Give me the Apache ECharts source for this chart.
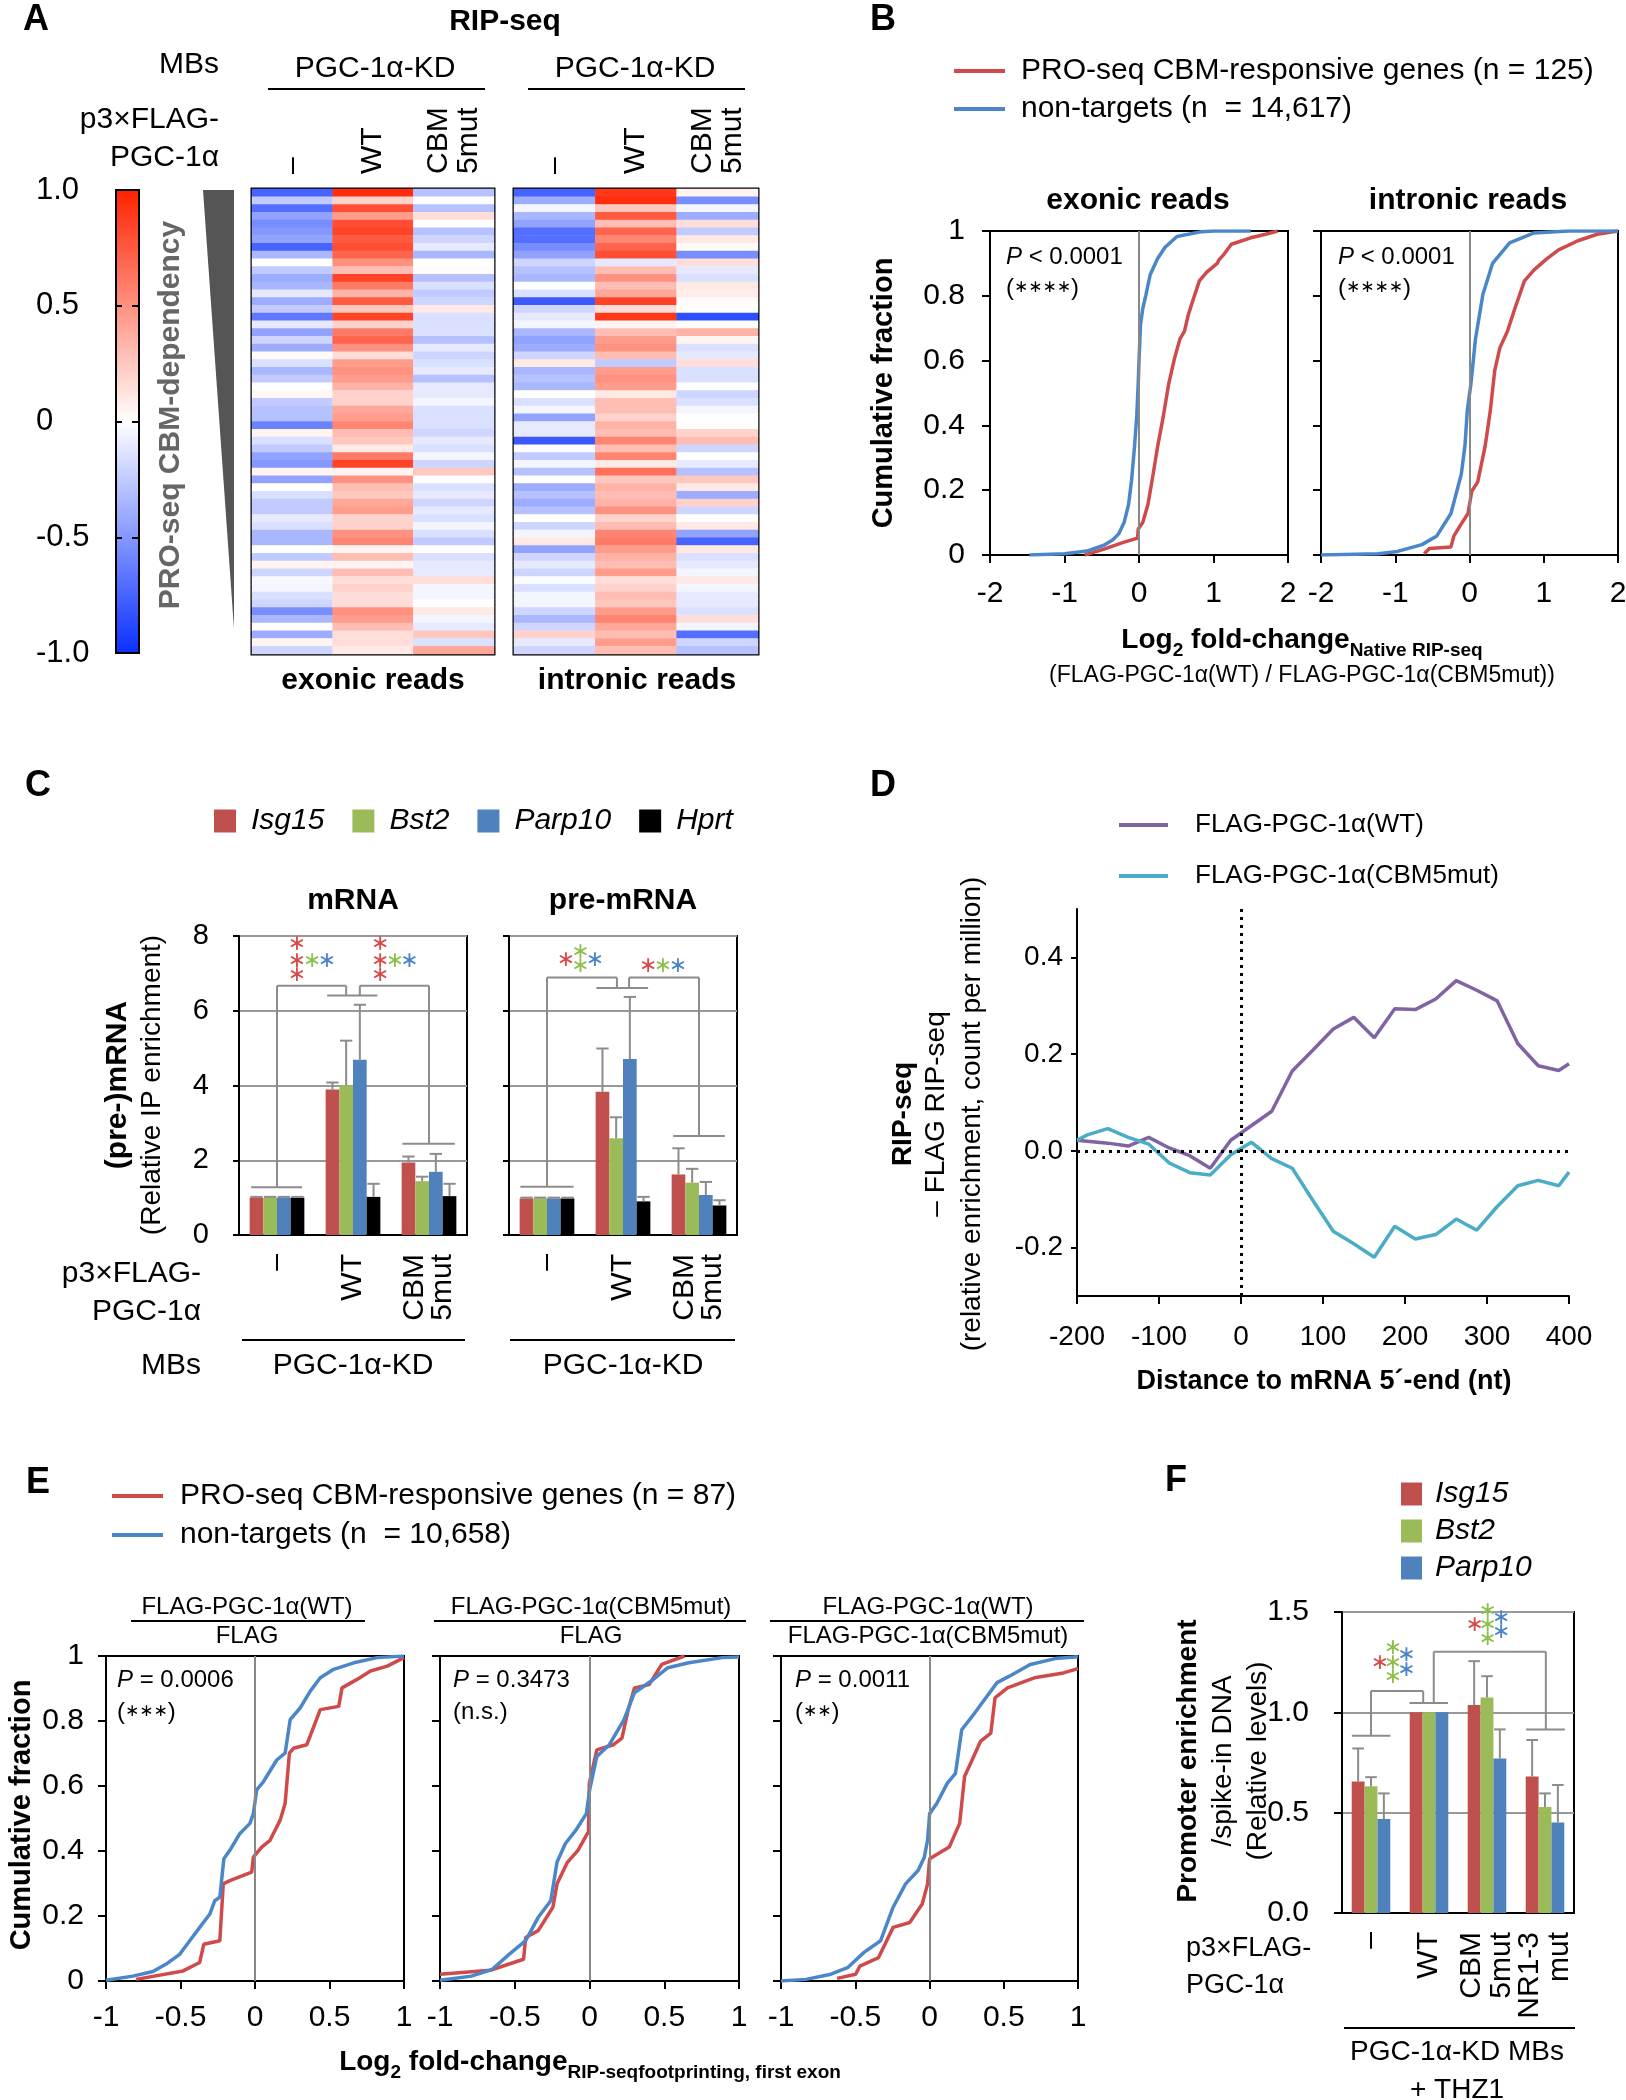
<!DOCTYPE html>
<html><head><meta charset="utf-8">
<script src="https://cdn.jsdelivr.net/npm/echarts@6/dist/echarts.min.js"></script>
<style>html,body{margin:0;padding:0;background:#fff}#c{width:1626px;height:2100px}</style>
</head><body><div id="c"></div>
<script>
// ---------------- DATA ----------------
// Panel A heatmaps (rows top->bottom), columns: –, WT, CBM5mut
const hmCols = ['–', 'WT', 'CBM\n5mut'];
const exonNone = [-0.75,-0.25,-0.7,-0.45,-0.55,-0.5,-0.45,-0.75,-0.35,0.0,-0.25,-0.4,-0.35,-0.1,-0.4,-0.25,-0.65,-0.1,-0.45,-0.2,-0.4,0.02,-0.15,-0.35,-0.25,0.0,0.03,-0.25,-0.3,-0.3,
 -0.6,0.05,-0.15,-0.25,-0.45,-0.5,0.05,-0.45,0.0,-0.15,-0.25,-0.25,-0.1,-0.15,-0.35,-0.35,0.0,-0.25,0.05,-0.2,-0.03,-0.05,-0.15,-0.2,-0.55,-0.35,0.0,-0.4,0.05,-0.2];
const exonWT = [0.95,0.2,0.8,0.45,0.8,0.85,0.75,0.8,0.7,0.5,0.3,0.85,0.6,0.35,0.75,0.25,0.85,0.2,0.6,0.7,0.5,0.15,0.45,0.5,0.45,0.35,0.2,0.2,0.4,0.45,
 0.55,0.3,0.25,0.1,0.6,0.85,0.05,0.5,0.3,0.25,0.4,0.45,0.2,0.2,0.5,0.55,0.05,0.3,0.05,0.3,0.15,0.2,0.15,0.15,0.5,0.45,0.3,0.15,0.15,0.1];
const exonCBM = [-0.3,0.0,-0.3,0.15,0.0,-0.3,-0.2,-0.1,-0.35,0.0,0.02,-0.3,-0.15,-0.25,-0.2,0.1,-0.15,-0.15,-0.15,-0.3,-0.1,-0.2,-0.15,-0.1,-0.3,-0.1,-0.1,-0.05,-0.15,-0.15,
 -0.15,-0.2,-0.1,-0.15,-0.05,-0.2,0.25,0.0,-0.15,-0.1,-0.2,-0.1,-0.15,-0.05,-0.15,-0.25,0.0,-0.15,-0.1,-0.1,0.15,-0.05,-0.05,0.0,0.1,-0.05,-0.1,0.25,-0.15,0.4];
const intronNone = [-0.75,-0.4,-0.05,-0.35,-0.45,-0.7,-0.7,-0.55,-0.45,-0.2,-0.3,-0.35,0.0,-0.15,-0.8,-0.2,-0.1,-0.05,-0.35,-0.45,-0.4,-0.2,0.1,-0.35,-0.3,-0.35,0.0,-0.15,-0.05,-0.45,
 -0.1,-0.1,-0.8,0.0,-0.25,-0.05,-0.3,0.0,-0.4,-0.3,-0.4,-0.3,0.0,-0.2,-0.05,0.1,-0.45,-0.2,-0.1,-0.2,-0.02,-0.15,-0.05,-0.05,-0.2,-0.35,-0.2,0.2,-0.1,-0.2];
const intronWT = [0.9,0.95,0.25,0.75,0.3,0.7,0.55,0.7,0.8,-0.1,0.3,0.5,0.3,0.4,0.85,0.15,0.9,0.05,0.3,0.45,0.5,0.3,-0.25,0.45,0.5,0.45,0.1,0.3,0.3,0.2,
 0.35,0.3,0.55,0.3,0.55,0.1,0.65,0.25,0.35,0.3,0.35,0.5,0.2,0.3,0.55,0.6,0.45,0.35,0.3,0.45,0.15,0.2,0.3,0.25,0.45,0.55,0.4,0.3,0.45,0.3];
const intronCBM = [0.05,-0.55,-0.05,-0.4,0.15,-0.25,0.1,0.02,-0.55,0.15,-0.1,-0.15,0.1,0.08,0.02,0.0,-0.85,0.0,0.35,0.05,-0.15,-0.1,0.15,-0.15,-0.15,0.0,-0.2,-0.15,-0.05,0.0,
 0.0,0.2,0.3,-0.2,0.0,-0.1,-0.3,0.25,0.1,-0.4,0.2,-0.2,0.0,0.1,-0.45,-0.75,0.1,-0.15,-0.1,-0.05,0.1,-0.05,-0.1,-0.1,-0.15,0.15,-0.05,-0.7,-0.2,-0.3];
const colorbarTicks = [-1, -0.5, 0, 0.5, 1];

// Panel B cumulative curves [log2FC, fraction]
const bRedName = 'PRO-seq CBM-responsive genes (n = 125)';
const bBlueName = 'non-targets (n  = 14,617)';
const bExonRed = [[-0.73,0],[-0.47,0.018],[-0.21,0.039],[-0.02,0.052],[-0.01,0.08],[0.05,0.1],[0.12,0.156],[0.19,0.25],[0.25,0.335],[0.32,0.42],[0.40,0.53],[0.48,0.61],[0.55,0.667],[0.61,0.69],[0.66,0.74],[0.71,0.776],[0.81,0.846],[0.91,0.873],[1.05,0.9],[1.07,0.91],[1.14,0.928],[1.24,0.959],[1.5,0.979],[1.7,0.99],[1.86,1.0]];
const bExonBlue = [[-1.47,0],[-1.0,0.004],[-0.7,0.012],[-0.47,0.03],[-0.35,0.047],[-0.27,0.066],[-0.2,0.1],[-0.14,0.156],[-0.1,0.23],[-0.06,0.335],[-0.03,0.43],[-0.01,0.53],[0.0,0.6],[0.02,0.71],[0.05,0.76],[0.09,0.80],[0.15,0.865],[0.25,0.915],[0.35,0.95],[0.51,0.983],[0.84,0.998],[1.0,1.0],[1.5,1.0]];
const bIntronRed = [[-0.61,0.004],[-0.54,0.02],[-0.25,0.025],[-0.21,0.059],[-0.10,0.1],[-0.02,0.128],[0.03,0.197],[0.11,0.225],[0.21,0.335],[0.28,0.445],[0.34,0.57],[0.41,0.64],[0.51,0.69],[0.61,0.76],[0.74,0.846],[0.87,0.88],[1.04,0.914],[1.2,0.942],[1.46,0.97],[1.72,0.99],[2,1.0]];
const bIntronBlue = [[-2,0],[-1.23,0.004],[-0.97,0.011],[-0.64,0.032],[-0.44,0.059],[-0.25,0.128],[-0.11,0.25],[-0.06,0.34],[-0.03,0.445],[0.02,0.53],[0.08,0.666],[0.18,0.804],[0.31,0.9],[0.54,0.963],[0.87,0.994],[1.33,1.0],[2,1.0]];

// Panel C bars
const cCats = ['–', 'WT', 'CBM\n5mut'];
const genesC = ['Isg15', 'Bst2', 'Parp10', 'Hprt'];
const cMrnaIsg15 = [1.0, 3.89, 1.94], cMrnaBst2 = [1.0, 4.0, 1.44], cMrnaParp10 = [1.0, 4.69, 1.69], cMrnaHprt = [1.0, 1.02, 1.04];
const cMrnaIsg15Err = [1.02, 4.08, 2.1], cMrnaBst2Err = [1.02, 5.2, 1.56], cMrnaParp10Err = [1.02, 6.16, 2.17], cMrnaHprtErr = [1.02, 1.37, 1.37];
const cPreIsg15 = [0.98, 3.83, 1.62], cPreBst2 = [0.98, 2.59, 1.40], cPreParp10 = [0.98, 4.71, 1.07], cPreHprt = [0.98, 0.90, 0.79];
const cPreIsg15Err = [1.0, 4.99, 2.32], cPreBst2Err = [1.0, 3.15, 1.77], cPreParp10Err = [1.0, 6.37, 1.42], cPreHprtErr = [1.0, 1.02, 0.93];
// significance brackets [x1,y1,x2,y2] in group units
const cMrnaBrackets = [[-0.34,1.28,0.33,1.28],[0,1.28,0,6.67],[0,6.67,0.91,6.67],[0.91,6.67,0.91,6.41],[0.66,6.41,1.32,6.41],[1.09,6.41,1.09,6.67],[1.09,6.67,2.0,6.67],[2.0,6.67,2.0,2.44],[1.65,2.44,2.34,2.44]];
const cPreBrackets = [[-0.35,1.29,0.35,1.29],[0,1.29,0,6.89],[0,6.89,0.92,6.89],[0.92,6.89,0.92,6.61],[0.65,6.61,1.33,6.61],[1.08,6.61,1.08,6.89],[1.08,6.89,2.0,6.89],[2.0,6.89,2.0,2.65],[1.66,2.65,2.34,2.65]];
// stars [x, y, colourIndex]
const cMrnaStars = [[0.264,7.78,0],[0.264,7.33,0],[0.264,6.94,0],[0.464,7.33,1],[0.656,7.33,2],[1.358,7.78,0],[1.358,7.33,0],[1.358,6.94,0],[1.551,7.33,1],[1.744,7.33,2]];
const cPreStars = [[0.248,7.34,0],[0.44,7.56,1],[0.44,7.2,1],[0.632,7.34,2],[1.333,7.2,0],[1.525,7.2,1],[1.724,7.2,2]];

// Panel D profiles
const dX = [-200,-187.5,-162.5,-137.5,-112.5,-87.5,-62.5,-37.5,-12.5,12.5,37.5,62.5,87.5,112.5,137.5,162.5,187.5,212.5,237.5,262.5,287.5,312.5,337.5,362.5,387.5,400];
const dWT = [0.022,0.02,0.016,0.01,0.028,0.006,-0.01,-0.036,0.022,0.052,0.082,0.165,0.208,0.252,0.276,0.234,0.294,0.292,0.314,0.352,0.332,0.31,0.222,0.176,0.166,0.18];
const dCBM = [0.022,0.033,0.046,0.028,0.014,-0.025,-0.045,-0.05,-0.008,0.018,-0.016,-0.036,-0.102,-0.166,-0.192,-0.22,-0.156,-0.182,-0.173,-0.141,-0.164,-0.115,-0.072,-0.061,-0.072,-0.044];

// Panel E cumulative curves
const eRedName = 'PRO-seq CBM-responsive genes (n = 87)';
const eBlueName = 'non-targets (n  = 10,658)';
const e1Red = [[-0.798,0.005],[-0.483,0.031],[-0.371,0.057],[-0.344,0.113],[-0.236,0.124],[-0.213,0.299],[-0.169,0.309],[-0.022,0.335],[-0.011,0.381],[0.045,0.412],[0.101,0.433],[0.169,0.495],[0.202,0.546],[0.231,0.701],[0.258,0.716],[0.348,0.727],[0.438,0.835],[0.562,0.845],[0.584,0.902],[0.685,0.928],[0.775,0.954],[0.888,0.969],[1,0.995]];
const e1Blue = [[-1,0.002],[-0.82,0.015],[-0.685,0.029],[-0.596,0.052],[-0.506,0.082],[-0.438,0.124],[-0.371,0.165],[-0.303,0.206],[-0.27,0.247],[-0.236,0.258],[-0.209,0.376],[-0.169,0.402],[-0.101,0.454],[-0.034,0.485],[-0.011,0.515],[0.011,0.588],[0.056,0.613],[0.146,0.68],[0.202,0.701],[0.236,0.804],[0.303,0.84],[0.371,0.892],[0.438,0.933],[0.528,0.959],[0.663,0.979],[0.82,0.995],[1,1]];
const e2Red = [[-1,0.021],[-0.664,0.033],[-0.441,0.067],[-0.427,0.134],[-0.343,0.155],[-0.245,0.227],[-0.217,0.299],[-0.147,0.366],[-0.077,0.402],[-0.021,0.448],[-0.007,0.459],[-0.001,0.608],[0.049,0.711],[0.161,0.727],[0.217,0.747],[0.259,0.835],[0.301,0.902],[0.399,0.912],[0.483,0.974],[0.636,1.0]];
const e2Blue = [[-1,0.002],[-0.79,0.015],[-0.65,0.036],[-0.538,0.082],[-0.427,0.124],[-0.343,0.196],[-0.259,0.247],[-0.217,0.366],[-0.161,0.423],[-0.091,0.464],[-0.021,0.515],[0.001,0.588],[0.049,0.691],[0.133,0.727],[0.231,0.804],[0.301,0.887],[0.413,0.923],[0.524,0.964],[0.664,0.979],[0.888,0.995],[1,0.997]];
const e3Red = [[-0.622,0.008],[-0.497,0.021],[-0.469,0.046],[-0.343,0.072],[-0.245,0.165],[-0.133,0.18],[-0.049,0.237],[-0.013,0.299],[0.001,0.376],[0.133,0.412],[0.203,0.485],[0.236,0.629],[0.287,0.68],[0.343,0.737],[0.413,0.763],[0.441,0.871],[0.525,0.902],[0.706,0.933],[0.902,0.948],[1,0.961]];
const e3Blue = [[-1,0],[-0.832,0.005],[-0.664,0.021],[-0.552,0.041],[-0.441,0.088],[-0.329,0.124],[-0.245,0.227],[-0.161,0.299],[-0.077,0.34],[-0.035,0.381],[-0.013,0.433],[0.001,0.515],[0.049,0.546],[0.119,0.608],[0.175,0.639],[0.217,0.773],[0.287,0.814],[0.371,0.866],[0.455,0.918],[0.538,0.938],[0.678,0.974],[0.846,0.992],[1,0.998]];

// Panel F bars
const fCats = ['–', 'WT', 'CBM\n5mut', 'NR1-3\nmut'];
const fIsg15 = [0.655, 1.0, 1.036, 0.68], fBst2 = [0.632, 1.0, 1.074, 0.528], fParp10 = [0.468, 1.0, 0.77, 0.451];
const fIsg15Err = [0.82, 1.0, 1.255, 0.862], fBst2Err = [0.677, 1.0, 1.18, 0.596], fParp10Err = [0.596, 1.0, 0.915, 0.638];
const fBrackets = [[-0.33,0.883,0.335,0.883],[0,0.883,0,1.106],[0,1.106,0.9,1.106],[0.9,1.106,0.9,1.047],[0.664,1.047,1.328,1.047],[1.082,1.047,1.082,1.302],[1.082,1.302,3.014,1.302],[3.014,1.302,3.014,0.915],[2.675,0.915,3.343,0.915]];
const fStars = [[0.153,1.245,0],[0.377,1.319,1],[0.377,1.245,1],[0.377,1.174,1],[0.612,1.283,2],[0.612,1.209,2],[1.787,1.432,0],[2.012,1.506,1],[2.012,1.432,1],[2.012,1.362,1],[2.247,1.468,2],[2.247,1.398,2]];

// ---------------- STYLE ----------------
const FONT = '"Liberation Sans", Arial, Helvetica, sans-serif';
const RED = '#c0504d', GREEN = '#9bbb59', BLUE = '#4f81bd', BLACK = '#000000';
const CDF_RED = '#cf4a4a', CDF_BLUE = '#4a86c8', PURPLE = '#8064a2', CYAN = '#4bacc6';
const starColors = ['#d84a4a', '#8dbf4a', '#4a82cc'];
const ERR_GRAY = '#8c8c8c';

const chart = echarts.init(document.getElementById('c'), null, {renderer: 'canvas', width: 1626, height: 2100});

function hmData(a, b, c) { const out = []; [a, b, c].forEach((col, ci) => col.forEach((v, ri) => out.push([ci, ri, v]))); return out; }
function errData(arrs, errs) { const out = []; arrs.forEach((vals, k) => vals.forEach((v, c) => out.push([c, k, v, errs[k][c]]))); return out; }
function makeErr(n, gap) {
  return function (params, api) {
    const c = api.value(0), k = api.value(1), v = api.value(2), e = api.value(3);
    if (e <= v) return null;
    const band = api.size([1, 0])[0];
    const gw = band * (1 - gap), bw = gw / n;
    const p0 = api.coord([c, v]), p1 = api.coord([c, e]);
    const x = p0[0] - gw / 2 + bw * (k + 0.5);
    return {type: 'group', children: [
      {type: 'line', shape: {x1: x, y1: p0[1], x2: x, y2: p1[1]}, style: {stroke: ERR_GRAY, lineWidth: 2}},
      {type: 'line', shape: {x1: x - bw * 0.45, y1: p1[1], x2: x + bw * 0.45, y2: p1[1]}, style: {stroke: ERR_GRAY, lineWidth: 2}}
    ]};
  };
}
function segRender(params, api) {
  const a = api.coord([api.value(0), api.value(1)]), b = api.coord([api.value(2), api.value(3)]);
  return {type: 'line', shape: {x1: a[0], y1: a[1], x2: b[0], y2: b[1]}, style: {stroke: ERR_GRAY, lineWidth: 2}};
}
function starRender(params, api) {
  const p = api.coord([api.value(0), api.value(1)]);
  return {type: 'text', x: p[0], y: p[1], style: {text: '∗', fill: starColors[api.value(2)], fontSize: 22, fontFamily: 'DejaVu Sans', align: 'center', verticalAlign: 'middle'}};
}

// grids
function grid(left, top, width, height, border, extra) {
  return Object.assign({left, top, width, height, containLabel: false, outerBoundsMode: 'none', show: !!border, borderColor: '#000', borderWidth: border || 0, backgroundColor: 'transparent'}, extra || {});
}
const grids = [
  grid(252, 189, 242, 465, 3),          // 0 A exonic
  grid(514, 189, 244, 465, 3),          // 1 A intronic
  grid(116, 190, 23, 463, 2, {z: 10}),  // 2 colorbar
  grid(990, 231, 298, 324, 2),          // 3 B1
  grid(1321, 231, 297, 324, 2),         // 4 B2
  grid(239, 936, 228, 299, 2),          // 5 C1
  grid(509, 936, 228, 299, 2),          // 6 C2
  grid(1077, 909, 492, 387, 0),         // 7 D
  grid(106, 1656, 298, 325, 2),         // 8 E1
  grid(440, 1656, 299, 325, 2),         // 9 E2
  grid(781, 1656, 297, 325, 2),         // 10 E3
  grid(1342, 1612, 232, 301, 2)         // 11 F
];

function valAx(gi, min, max, interval, o) {
  o = o || {};
  return {type: 'value', gridIndex: gi, min, max, interval, z: o.z || 0,
    axisLine: {show: o.line !== false, onZero: false, lineStyle: {color: '#000', width: 2}},
    axisTick: {show: o.tick !== false, inside: false, length: o.tickLen || 8, lineStyle: {color: '#000', width: 2}, customValues: o.tickVals},
    axisLabel: {show: o.label !== false, fontSize: o.fs || 30, color: '#000', fontFamily: FONT, margin: o.margin == null ? 10 : o.margin, formatter: o.fmt, customValues: o.labelVals, align: o.align, showMinLabel: true, showMaxLabel: true, hideOverlap: false},
    splitLine: {show: !!o.split, lineStyle: o.splitStyle || {color: '#999', width: 2}}};
}
function hidAx(gi, min, max) { return {type: 'value', gridIndex: gi, min, max, show: false}; }
function catAx(gi, data, o) {
  return {type: 'category', gridIndex: gi, data, position: o.pos || 'bottom',
    axisLine: {show: o.line !== false, onZero: false, lineStyle: {color: '#000', width: 2}},
    axisTick: {show: false},
    axisLabel: {show: o.label !== false, interval: 0, rotate: 90, fontSize: 30, lineHeight: o.lh || 30, color: '#000', fontFamily: FONT, margin: o.margin, hideOverlap: false},
    splitLine: {show: false}};
}

const rowIdx = exonNone.map((_, i) => i);
const xAxes = [
  catAx(0, hmCols, {pos: 'top', line: false, label: false}),  // 0
  catAx(1, hmCols, {pos: 'top', line: false, label: false}),  // 1
  hidAx(2, 0, 1),                                           // 2
  valAx(3, -2, 2, 1, {margin: 24}),                         // 3
  valAx(4, -2, 2, 1, {margin: 24}),                         // 4
  catAx(5, cCats, {margin: 19, lh: 28}),                    // 5
  hidAx(5, -0.5, 2.5),                                      // 6
  catAx(6, cCats, {margin: 19, lh: 28}),                    // 7
  hidAx(6, -0.5, 2.5),                                      // 8
  valAx(7, -200, 400, 100, {margin: 27, fs: 28}),           // 9
  valAx(8, -1, 1, 0.5, {margin: 22}),                       // 10
  valAx(9, -1, 1, 0.5, {margin: 22}),                       // 11
  valAx(10, -1, 1, 0.5, {margin: 22}),                      // 12
  catAx(11, fCats, {margin: 19, lh: 30}),                   // 13
  hidAx(11, -0.5, 3.5)                                      // 14
];
const yAxes = [
  {type: 'category', gridIndex: 0, data: rowIdx, inverse: true, show: false},
  {type: 'category', gridIndex: 1, data: rowIdx, inverse: true, show: false},
  valAx(2, -1, 1, 0.5, {z: 10, line: false, tick: false, align: 'left', margin: 80, fs: 31,
    fmt: v => (v === 0 ? '0' : v.toFixed(1)), labelVals: colorbarTicks,
    split: true, splitStyle: {color: '#000', width: 2, type: [6, 10]}}),
  valAx(3, 0, 1, 0.2, {margin: 25}),
  valAx(4, 0, 1, 0.2, {label: false}),
  valAx(5, 0, 8, 2, {margin: 30, fs: 29, split: true, tickLen: 6}),
  valAx(6, 0, 8, 2, {label: false, split: true, tickLen: 6}),
  valAx(7, -0.3, 0.5, 0.1, {margin: 14, fs: 28, tickLen: 6, fmt: v => v.toFixed(1), labelVals: [-0.2, 0, 0.2, 0.4], tickVals: [-0.2, 0, 0.2, 0.4]}),
  valAx(8, 0, 1, 0.2, {margin: 22}),
  valAx(9, 0, 1, 0.2, {label: false}),
  valAx(10, 0, 1, 0.2, {label: false}),
  valAx(11, 0, 1.5, 0.5, {margin: 33, split: true, fmt: v => v.toFixed(1)})
];

const zeroLine = {silent: true, symbol: 'none', label: {show: false}, lineStyle: {color: '#888', width: 2, type: 'solid'}, data: [{xAxis: 0}]};
function cdf(name, data, color, xi, yi, mark) {
  const s = {type: 'line', name, data, xAxisIndex: xi, yAxisIndex: yi, symbol: 'none', showSymbol: false, color,
    lineStyle: {color, width: 3.5}, itemStyle: {color}, silent: true, animation: false};
  if (mark) s.markLine = zeroLine;
  return s;
}
function bar(name, data, color, xi, yi, gap) {
  return {type: 'bar', name, data, xAxisIndex: xi, yAxisIndex: yi, barGap: '0%', barCategoryGap: gap, color, itemStyle: {color}, silent: true};
}

const series = [
  {type: 'heatmap', xAxisIndex: 0, yAxisIndex: 0, data: hmData(exonNone, exonWT, exonCBM), emphasis: {disabled: true}, silent: true},
  {type: 'heatmap', xAxisIndex: 1, yAxisIndex: 1, data: hmData(intronNone, intronWT, intronCBM), emphasis: {disabled: true}, silent: true},
  // B
  cdf(bRedName, bExonRed, CDF_RED, 3, 3, true),
  cdf(bBlueName, bExonBlue, CDF_BLUE, 3, 3),
  cdf(bRedName, bIntronRed, CDF_RED, 4, 4, true),
  cdf(bBlueName, bIntronBlue, CDF_BLUE, 4, 4),
  // C mRNA
  bar('Isg15', cMrnaIsg15, RED, 5, 5, '28%'), bar('Bst2', cMrnaBst2, GREEN, 5, 5, '28%'),
  bar('Parp10', cMrnaParp10, BLUE, 5, 5, '28%'), bar('Hprt', cMrnaHprt, BLACK, 5, 5, '28%'),
  {type: 'custom', xAxisIndex: 5, yAxisIndex: 5, renderItem: makeErr(4, 0.28), encode: {x: 0, y: [2, 3]}, silent: true, z: 3,
    data: errData([cMrnaIsg15, cMrnaBst2, cMrnaParp10, cMrnaHprt], [cMrnaIsg15Err, cMrnaBst2Err, cMrnaParp10Err, cMrnaHprtErr])},
  {type: 'custom', xAxisIndex: 6, yAxisIndex: 5, renderItem: segRender, encode: {x: [0, 2], y: [1, 3]}, data: cMrnaBrackets, silent: true},
  {type: 'custom', xAxisIndex: 6, yAxisIndex: 5, renderItem: starRender, encode: {x: 0, y: 1}, data: cMrnaStars, silent: true},
  // C pre-mRNA
  bar('Isg15', cPreIsg15, RED, 7, 6, '28%'), bar('Bst2', cPreBst2, GREEN, 7, 6, '28%'),
  bar('Parp10', cPreParp10, BLUE, 7, 6, '28%'), bar('Hprt', cPreHprt, BLACK, 7, 6, '28%'),
  {type: 'custom', xAxisIndex: 7, yAxisIndex: 6, renderItem: makeErr(4, 0.28), encode: {x: 0, y: [2, 3]}, silent: true, z: 3,
    data: errData([cPreIsg15, cPreBst2, cPreParp10, cPreHprt], [cPreIsg15Err, cPreBst2Err, cPreParp10Err, cPreHprtErr])},
  {type: 'custom', xAxisIndex: 8, yAxisIndex: 6, renderItem: segRender, encode: {x: [0, 2], y: [1, 3]}, data: cPreBrackets, silent: true},
  {type: 'custom', xAxisIndex: 8, yAxisIndex: 6, renderItem: starRender, encode: {x: 0, y: 1}, data: cPreStars, silent: true},
  // D
  {type: 'line', name: 'FLAG-PGC-1α(WT)', xAxisIndex: 9, yAxisIndex: 7, data: dX.map((x, i) => [x, dWT[i]]), symbol: 'none', color: PURPLE,
    lineStyle: {color: PURPLE, width: 3.5}, itemStyle: {color: PURPLE}, silent: true,
    markLine: {silent: true, symbol: 'none', label: {show: false}, lineStyle: {color: '#000', width: 3, type: [3, 5]}, data: [{yAxis: 0}, {xAxis: 0}]}},
  {type: 'line', name: 'FLAG-PGC-1α(CBM5mut)', xAxisIndex: 9, yAxisIndex: 7, data: dX.map((x, i) => [x, dCBM[i]]), symbol: 'none', color: CYAN,
    lineStyle: {color: CYAN, width: 3.5}, itemStyle: {color: CYAN}, silent: true},
  // E
  cdf(eRedName, e1Red, CDF_RED, 10, 8, true), cdf(eBlueName, e1Blue, CDF_BLUE, 10, 8),
  cdf(eRedName, e2Red, CDF_RED, 11, 9, true), cdf(eBlueName, e2Blue, CDF_BLUE, 11, 9),
  cdf(eRedName, e3Red, CDF_RED, 12, 10, true), cdf(eBlueName, e3Blue, CDF_BLUE, 12, 10),
  // F
  bar('Isg15', fIsg15, RED, 13, 11, '33.5%'), bar('Bst2', fBst2, GREEN, 13, 11, '33.5%'), bar('Parp10', fParp10, BLUE, 13, 11, '33.5%'),
  {type: 'custom', xAxisIndex: 13, yAxisIndex: 11, renderItem: makeErr(3, 0.335), encode: {x: 0, y: [2, 3]}, silent: true, z: 3,
    data: errData([fIsg15, fBst2, fParp10], [fIsg15Err, fBst2Err, fParp10Err])},
  {type: 'custom', xAxisIndex: 14, yAxisIndex: 11, renderItem: segRender, encode: {x: [0, 2], y: [1, 3]}, data: fBrackets, silent: true},
  {type: 'custom', xAxisIndex: 14, yAxisIndex: 11, renderItem: starRender, encode: {x: 0, y: 1}, data: fStars, silent: true}
];

function legend(o) {
  return {show: true, selectedMode: false, padding: 0, orient: o.orient || 'vertical', left: o.left, top: o.top,
    itemWidth: o.w, itemHeight: o.h, itemGap: o.gap, icon: 'rect', data: o.data,
    textStyle: {fontSize: o.fs || 30, lineHeight: o.fs || 30, color: '#000', fontFamily: FONT, fontStyle: o.italic ? 'italic' : 'normal', padding: [0, 0, 0, o.pad]}};
}
const legends = [
  legend({left: 954, top: 56, w: 51, h: 4, gap: 8, pad: 11, data: [bRedName, bBlueName]}),
  legend({orient: 'horizontal', left: 214, top: 806, w: 22, h: 23, gap: 28, pad: 10, italic: true, data: genesC}),
  legend({left: 1119, top: 812, w: 49, h: 4, gap: 25, pad: 22, fs: 26, data: ['FLAG-PGC-1α(WT)', 'FLAG-PGC-1α(CBM5mut)']}),
  legend({left: 112, top: 1481, w: 51, h: 4, gap: 9, pad: 12, data: [eRedName, eBlueName]}),
  legend({left: 1401, top: 1479, w: 21, h: 23, gap: 7, pad: 8, italic: true, data: ['Isg15', 'Bst2', 'Parp10']})
];

// ---------------- TEXT / DECOR ----------------
const G = [];
const ROT = Math.PI / 2;
function txt(x, y, text, o) {
  o = o || {};
  G.push({type: 'text', x, y, rotation: o.rot || 0, silent: true, z: 100,
    style: {text, fill: o.color || '#000', fontSize: o.size || 30, fontWeight: o.bold ? 'bold' : 'normal', fontStyle: o.italic ? 'italic' : 'normal',
      fontFamily: o.family || FONT, align: o.align || 'center', verticalAlign: o.va || 'middle', lineHeight: o.lh, rich: o.rich}});
}
function ln(x1, y1, x2, y2) { G.push({type: 'line', silent: true, z: 100, shape: {x1, y1, x2, y2}, style: {stroke: '#000', lineWidth: 2}}); }
const subRich = {
  m: {fontSize: 28, fontWeight: 'bold', fontFamily: FONT, lineHeight: 34, verticalAlign: 'top'},
  s: {fontSize: 19, fontWeight: 'bold', fontFamily: FONT, lineHeight: 20, padding: [14, 0, 0, 0], verticalAlign: 'bottom'}
};
const pRich = {i: {fontStyle: 'italic', fontSize: 24, fontFamily: FONT}, a: {fontSize: 17, fontFamily: 'DejaVu Sans'}};

// A
txt(23, 20, 'A', {bold: true, size: 36, align: 'left'});
txt(505, 22, 'RIP-seq', {bold: true});
txt(219, 65, 'MBs', {align: 'right'});
txt(375, 69, 'PGC-1α-KD'); txt(635, 69, 'PGC-1α-KD');
ln(268, 89, 485, 89); ln(528, 89, 745, 89);
txt(219, 120, 'p3×FLAG-', {align: 'right'}); txt(219, 158, 'PGC-1α', {align: 'right'});
txt(171, 415, 'PRO-seq CBM-dependency', {bold: true, color: '#666', rot: ROT});
G.push({type: 'polygon', silent: true, shape: {points: [[203, 190], [234, 190], [234, 629]]}, style: {fill: '#555'}});
txt(373, 681, 'exonic reads', {bold: true}); txt(637, 681, 'intronic reads', {bold: true});
// B
txt(870, 20, 'B', {bold: true, size: 36, align: 'left'});
txt(1138, 201, 'exonic reads', {bold: true}); txt(1468, 201, 'intronic reads', {bold: true});
[1006, 1338].forEach(x => { txt(x, 257, '{i|P} < 0.0001', {size: 24, align: 'left', rich: pRich}); txt(x, 288, '({a|∗∗∗∗})', {size: 24, align: 'left', rich: pRich}); });
txt(884, 393, 'Cumulative fraction', {bold: true, size: 29, rot: ROT});
txt(1302, 643, '{m|Log}{s|2}{m| fold-change}{s|Native RIP-seq}', {rich: subRich});
txt(1302, 676, '(FLAG-PGC-1α(WT) / FLAG-PGC-1α(CBM5mut))', {size: 23});
// C
txt(25, 786, 'C', {bold: true, size: 36, align: 'left'});
txt(353, 901, 'mRNA', {bold: true}); txt(623, 901, 'pre-mRNA', {bold: true});
txt(118, 1085, '(pre-)mRNA', {bold: true, rot: ROT}); txt(152, 1085, '(Relative IP enrichment)', {size: 28, rot: ROT});
txt(201, 1274, 'p3×FLAG-', {align: 'right'}); txt(201, 1312, 'PGC-1α', {align: 'right'});
ln(242, 1340, 465, 1340); ln(510, 1340, 735, 1340);
txt(201, 1366, 'MBs', {align: 'right'}); txt(353, 1366, 'PGC-1α-KD'); txt(623, 1366, 'PGC-1α-KD');
// D
txt(870, 786, 'D', {bold: true, size: 36, align: 'left'});
txt(903, 1114, 'RIP-seq', {bold: true, size: 28, rot: ROT});
txt(936, 1114, '– FLAG RIP-seq', {size: 28, rot: ROT});
txt(972, 1114, '(relative enrichment, count per million)', {size: 28, rot: ROT});
txt(1324, 1382, 'Distance to mRNA 5´-end (nt)', {bold: true, size: 27});
// E
txt(26, 1483, 'E', {bold: true, size: 36, align: 'left'});
txt(247, 1607, 'FLAG-PGC-1α(WT)', {size: 24}); ln(131, 1621, 365, 1621); txt(247, 1636, 'FLAG', {size: 24});
txt(591, 1607, 'FLAG-PGC-1α(CBM5mut)', {size: 24}); ln(434, 1621, 746, 1621); txt(591, 1636, 'FLAG', {size: 24});
txt(928, 1607, 'FLAG-PGC-1α(WT)', {size: 24}); ln(770, 1621, 1084, 1621); txt(928, 1636, 'FLAG-PGC-1α(CBM5mut)', {size: 24});
txt(117, 1680, '{i|P} = 0.0006', {size: 24, align: 'left', rich: pRich}); txt(117, 1712, '({a|∗∗∗})', {size: 24, align: 'left', rich: pRich});
txt(453, 1680, '{i|P} = 0.3473', {size: 24, align: 'left', rich: pRich}); txt(453, 1712, '(n.s.)', {size: 24, align: 'left'});
txt(795, 1680, '{i|P} = 0.0011', {size: 24, align: 'left', rich: pRich}); txt(795, 1712, '({a|∗∗})', {size: 24, align: 'left', rich: pRich});
txt(22, 1815, 'Cumulative fraction', {bold: true, size: 29, rot: ROT});
txt(590, 2065, '{m|Log}{s|2}{m| fold-change}{s|RIP-seqfootprinting, first exon}', {rich: subRich});
// F
txt(1165, 1481, 'F', {bold: true, size: 36, align: 'left'});
txt(1188, 1761, 'Promoter enrichment', {bold: true, size: 28, rot: ROT});
txt(1223, 1761, '/spike-in DNA', {size: 28, rot: ROT});
txt(1258, 1761, '(Relative levels)', {size: 28, rot: ROT});
txt(1186, 1949, 'p3×FLAG-', {align: 'left', size: 27}); txt(1186, 1986, 'PGC-1α', {align: 'left', size: 27});
ln(1344, 2028, 1575, 2028);
txt(1457, 2052, 'PGC-1α-KD MBs', {size: 28}); txt(1457, 2090, '+ THZ1', {size: 28});

chart.setOption({
  animation: false,
  backgroundColor: '#ffffff',
  textStyle: {fontFamily: FONT},
  grid: grids,
  xAxis: xAxes,
  yAxis: yAxes,
  visualMap: [{type: 'continuous', min: -1, max: 1, seriesIndex: [0, 1], calculable: false, hoverLink: false, orient: 'vertical',
    left: 116, top: 190, itemWidth: 23, itemHeight: 463, padding: 0, inRange: {color: ['#0a30ff', '#ffffff', '#ff2200']}}],
  legend: legends,
  series,
  graphic: G
});

// Heatmap column labels (rotated, reading upward), placed at the category positions of the heatmap axes
[0, 1].forEach(ai => {
  hmCols.forEach(cat => {
    const x = chart.convertToPixel({xAxisIndex: ai}, cat);
    txt(x, 174, cat, {align: 'left', rot: ROT, lh: 30});
  });
});
chart.setOption({graphic: G});
</script></body></html>
